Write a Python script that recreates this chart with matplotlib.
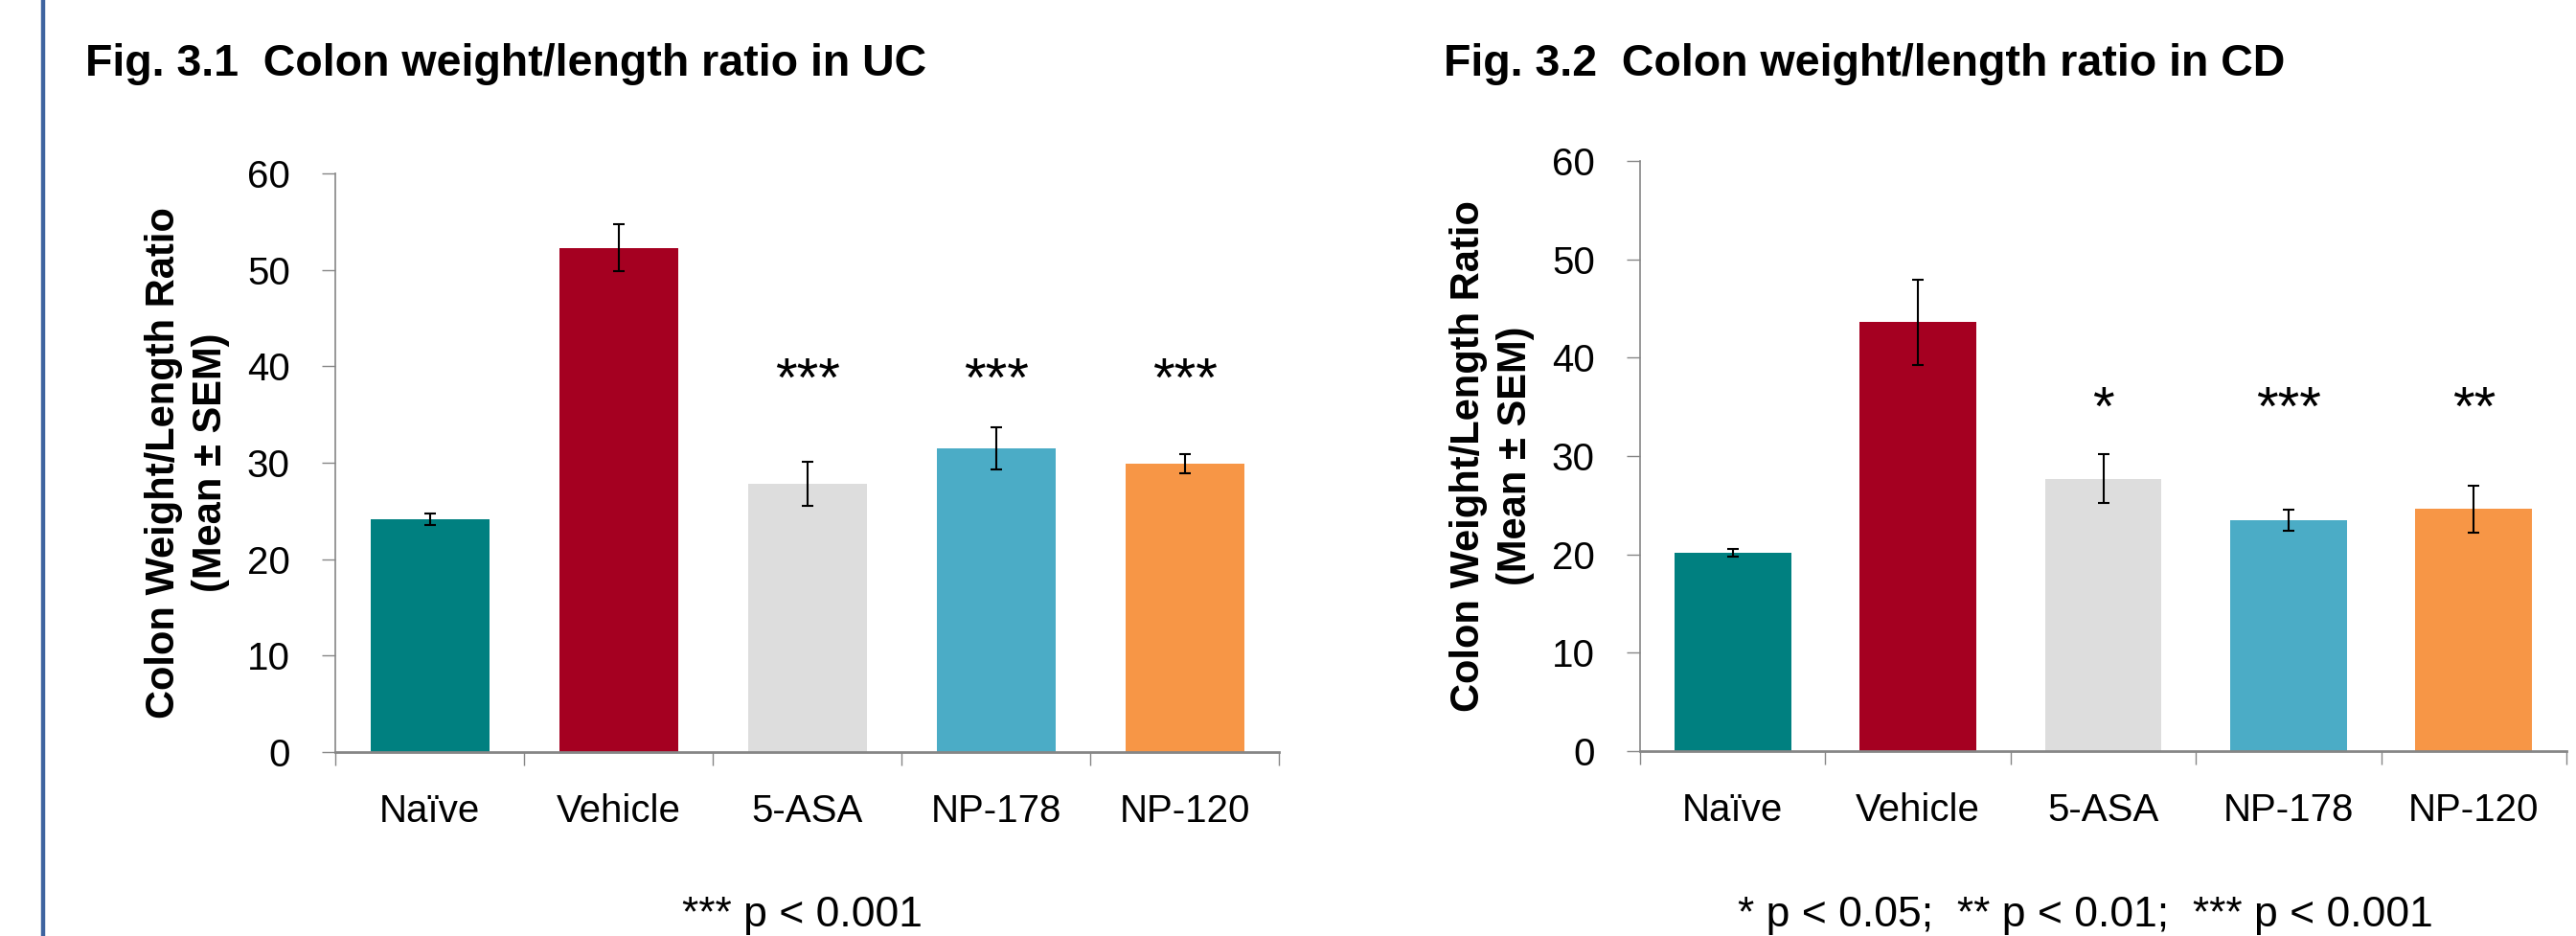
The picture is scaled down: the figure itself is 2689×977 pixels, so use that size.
import matplotlib
matplotlib.use("Agg")
import matplotlib.pyplot as plt
from matplotlib.lines import Line2D

# データ
categories = ['Naïve', 'Vehicle', '5-ASA', 'NP-178', 'NP-120']
bar_colors = ['#008080', '#A50021', '#DDDDDD', '#4BACC6', '#F79646']

uc_mean = [24.1, 52.3, 27.8, 31.5, 29.9]
uc_sem = [0.6, 2.4, 2.3, 2.2, 1.0]
uc_stars = ['', '', '***', '***', '***']
uc_star_y = 40.0

cd_mean = [20.2, 43.6, 27.7, 23.5, 24.6]
cd_sem = [0.4, 4.3, 2.5, 1.05, 2.4]
cd_stars = ['', '', '*', '***', '**']
cd_star_y = 36.2

y_ticks = [0, 10, 20, 30, 40, 50, 60]

plt.rcParams['font.family'] = ['Liberation Sans', 'DejaVu Sans']

AXIS_GRAY = '#868686'
STAR_SIZE = 42


def draw_panel(ax, means, sems, stars, star_y):
    x = list(range(len(categories)))
    ax.bar(x, means, width=0.63, color=bar_colors, zorder=2)
    ax.errorbar(x, means, yerr=sems, fmt='none', ecolor='black',
                elinewidth=1.5, capsize=4.2, capthick=1.5, zorder=3)

    # 有意差の星印
    for xi, s in zip(x, stars):
        if s:
            ax.annotate(s, (xi, star_y), xytext=(0, -0.53 * STAR_SIZE),
                        textcoords='offset points', ha='center', va='baseline',
                        fontsize=STAR_SIZE)

    ax.set_xlim(-0.5, len(categories) - 0.5)
    ax.set_ylim(0, 60)
    ax.set_yticks(y_ticks)

    # カテゴリ境界に目盛り、中央にラベル
    ax.set_xticks([i - 0.5 for i in range(len(categories) + 1)])
    ax.set_xticklabels([])
    ax.set_xticks(x, minor=True)
    ax.set_xticklabels(categories, minor=True)
    ax.tick_params(axis='x', which='major', length=10, width=1, color=AXIS_GRAY)
    ax.tick_params(axis='x', which='minor', length=0, pad=31, labelsize=29)
    ax.tick_params(axis='y', length=10, width=1, color=AXIS_GRAY, pad=24, labelsize=29)

    for side in ['top', 'right']:
        ax.spines[side].set_visible(False)
    ax.spines['left'].set_color(AXIS_GRAY)
    ax.spines['left'].set_linewidth(1.2)
    ax.spines['bottom'].set_color(AXIS_GRAY)
    ax.spines['bottom'].set_linewidth(2)
    ax.spines['bottom'].set_zorder(4)

    ax.set_ylabel('Colon Weight/Length Ratio\n(Mean ± SEM)', fontsize=30,
                  fontweight='bold', labelpad=13, linespacing=1.3)


fig = plt.figure(figsize=(26.89, 9.77), dpi=100)

ax1 = fig.add_axes([0.1302, 0.1965, 0.3663, 0.6182])
ax2 = fig.add_axes([0.6367, 0.1975, 0.3596, 0.6305])

draw_panel(ax1, uc_mean, uc_sem, uc_stars, uc_star_y)
draw_panel(ax2, cd_mean, cd_sem, cd_stars, cd_star_y)

# タイトル
fig.text(0.0331, 0.9191, 'Fig. 3.1  Colon weight/length ratio in UC',
         fontsize=33.5, fontweight='bold', va='baseline', ha='left')
fig.text(0.5604, 0.9191, 'Fig. 3.2  Colon weight/length ratio in CD',
         fontsize=33.5, fontweight='bold', va='baseline', ha='left')

# 注記
fig.text(0.3113, 0.0102, '*** p < 0.001', fontsize=32, va='baseline', ha='center')
fig.text(0.8096, 0.0102, '* p < 0.05;  ** p < 0.01;  *** p < 0.001',
         fontsize=32, va='baseline', ha='center')

# 左端の青い縦線
fig.add_artist(Line2D([45 / 2689, 45 / 2689], [0, 1], transform=fig.transFigure,
                      color='#3F64A0', linewidth=3.2))

plt.savefig('out.png', dpi=100)
